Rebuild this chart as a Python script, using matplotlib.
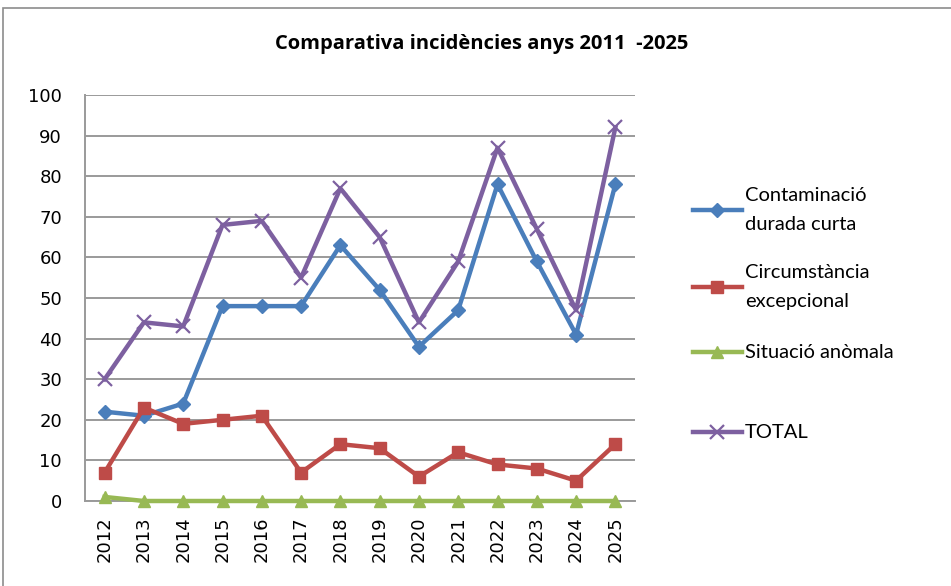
import matplotlib
matplotlib.use("Agg")
import matplotlib.pyplot as plt
from matplotlib.lines import Line2D
from matplotlib.patches import Rectangle

years = ["2012", "2013", "2014", "2015", "2016", "2017", "2018",
         "2019", "2020", "2021", "2022", "2023", "2024", "2025"]
contaminacio = [22, 21, 24, 48, 48, 48, 63, 52, 38, 47, 78, 59, 41, 78]
circumstancia = [7, 23, 19, 20, 21, 7, 14, 13, 6, 12, 9, 8, 5, 14]
situacio = [1, 0, 0, 0, 0, 0, 0, 0, 0, 0, 0, 0, 0, 0]
total = [30, 44, 43, 68, 69, 55, 77, 65, 44, 59, 87, 67, 47, 92]

labels = ["Contaminació\ndurada curta", "Circumstància\nexcepcional",
          "Situació anòmala", "TOTAL"]
title = "Comparativa incidències anys 2011  -2025"

colors = ["#4A7EBB", "#BE4B48", "#98B954", "#7D60A0"]
markers = ["D", "s", "^", "x"]
msizes = [7.5, 9, 8.5, 10]

fig = plt.figure(figsize=(9.51, 5.86), dpi=100)
fig.patch.set_facecolor("white")
fig.add_artist(Rectangle((3 / 951, -0.1), 1.2, 1.1 - 8 / 586,
                         transform=fig.transFigure, fill=False,
                         edgecolor="#8c8c8c", linewidth=1.2))

ax = fig.add_axes([85 / 951, (586 - 501) / 586, 550 / 951, 406 / 586])
x = list(range(len(years)))
series = [contaminacio, circumstancia, situacio, total]
for vals, c, m, ms in zip(series, colors, markers, msizes):
    kw = dict(color=c, linewidth=3.2, marker=m, markersize=ms, clip_on=False, zorder=3)
    if m == "x":
        kw.update(markeredgewidth=1.6)
    else:
        kw.update(markeredgecolor=c)
    ax.plot(x, vals, **kw)

ax.set_xlim(-0.5, len(years) - 0.5)
ax.set_ylim(0, 100)
ax.set_yticks(range(0, 101, 10))
ax.set_xticks(x)
ax.set_xticklabels(years, rotation=90, family="DejaVu Sans", fontsize=13)
for t in ax.get_yticklabels():
    t.set_family("DejaVu Sans")
    t.set_fontsize(13)
ax.tick_params(axis="both", length=0)
ax.tick_params(axis="y", pad=16.5)
ax.tick_params(axis="x", pad=11)
ax.grid(axis="y", color="#9a9a9a", linewidth=1.4, zorder=0)
ax.set_axisbelow(True)
for s in ["top", "right"]:
    ax.spines[s].set_visible(False)
for s in ["left", "bottom"]:
    ax.spines[s].set_color("#9a9a9a")
    ax.spines[s].set_linewidth(1.4)

fig.text(482 / 951, 1 - 44 / 586, title, ha="center", va="center",
         fontsize=14.5, fontweight="bold", family="Open Sans")

# legend (manual)
ycent = [210, 287, 352, 432]
for lab, c, m, ms, yc in zip(labels, colors, markers, msizes, ycent):
    yf = 1 - yc / 586
    ln = Line2D([693 / 951, 742 / 951], [yf, yf], transform=fig.transFigure,
                color=c, linewidth=3.2)
    fig.add_artist(ln)
    mk = Line2D([717 / 951], [yf], transform=fig.transFigure, color=c,
                marker=m, markersize=ms, markeredgewidth=1.6 if m == "x" else 1,
                linestyle="none")
    fig.add_artist(mk)
    fig.text(745 / 951, yf, lab, ha="left", va="center",
             fontsize=14.5, family="Lato", linespacing=1.8)

fig.savefig("out.png", dpi=100)
